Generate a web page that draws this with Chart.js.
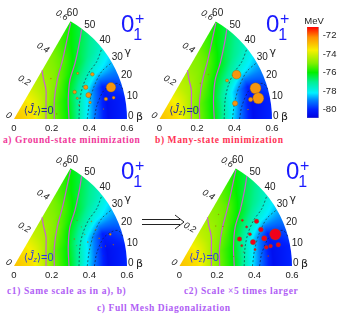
<!DOCTYPE html>
<html>
<head>
<meta charset="utf-8">
<title>Collective wave functions</title>
<script src="https://cdn.jsdelivr.net/npm/chart.js@4"></script>
<style>
    html, body { margin: 0; padding: 0; background: #fff; overflow: hidden; }
    body { width: 337px; height: 317px; position: relative; }
    canvas { position: absolute; filter: blur(0.3px); }
    .cap { position: absolute; white-space: nowrap; font: bold 9.5px "Liberation Serif", serif; letter-spacing: 0.6px; line-height: 10px; }
    svg { position: absolute; left: 0; top: 0; }
</style>
</head>
<body>
<div class="cap" style="left:3px;top:135px;color:#f0389a">a) Ground-state minimization</div>
<div class="cap" style="left:155px;top:135px;color:#ff3355">b) Many-state minimization</div>
<div class="cap" style="left:7px;top:286px;color:#b060f5">c1) Same scale as in a), b)</div>
<div class="cap" style="left:184px;top:286px;color:#b060f5">c2) Scale ×5 times larger</div>
<div class="cap" style="left:97px;top:303px;color:#b060f5">c) Full Mesh Diagonalization</div>
<svg width="337" height="317">
    <path d="M142 219.5H180M142 224.5H180M175 215L184 222L175 229" fill="none" stroke="#222" stroke-width="1"/>
</svg>
<script>
// Axis ticks
const betaTicks = [0, 0.2, 0.4, 0.6];
const gammaTicks = [0, 10, 20, 30, 40, 50, 60];
const energyTicks = [-72, -74, -76, -78, -80];

// Energy surface in MeV, one row per gamma (0..60), one column per beta (0..0.6)
const gridBeta = [0, 0.1, 0.2, 0.3, 0.4, 0.5, 0.6];
const gridGamma = [0, 10, 20, 30, 40, 50, 60];
const energy = [
    [-72.9, -73.4, -74.9, -76.2, -78.5, -80.5, -79.9],
    [-72.9, -73.4, -74.9, -76.2, -78.3, -80.5, -80.0],
    [-72.9, -73.4, -74.9, -76.0, -78.0, -80.0, -79.4],
    [-72.9, -73.4, -74.6, -75.6, -77.0, -78.0, -78.6],
    [-72.9, -73.4, -74.4, -75.1, -76.0, -76.9, -77.6],
    [-72.9, -73.4, -74.3, -74.8, -75.3, -76.2, -76.8],
    [-72.9, -73.4, -74.2, -74.7, -75.0, -75.5, -76.0]
];

// Colour scale
const scaleValues = [-81, -80, -79, -78.2, -77, -76, -75, -73.6, -72.2, -71];
const scaleColors = ['#0000e0', '#0020ff', '#0080ff', '#00f0ff', '#00f090', '#00f000', '#80f000', '#f8f000', '#ff9000', '#ff0000'];

// Contours, x = beta cos(gamma), y = beta sin(gamma)
const magenta1X = [0.170, 0.170, 0.170, 0.156, 0.149];
const magenta1Y = [0, 0.101, 0.154, 0.216, 0.258];
const magenta2X = [0.214, 0.214, 0.230, 0.258, 0.285, 0.301];
const magenta2Y = [0, 0.101, 0.207, 0.313, 0.437, 0.510];
const magenta3X = [0.292, 0.288, 0.297, 0.324, 0.347, 0.359];
const magenta3Y = [0, 0.101, 0.207, 0.296, 0.402, 0.476];
const dashed1X = [0.345, 0.350, 0.365, 0.395, 0.439, 0.467];
const dashed1Y = [0, 0.101, 0.172, 0.242, 0.304, 0.376];
const dashed2X = [0.389, 0.400, 0.425, 0.465, 0.515];
const dashed2Y = [0, 0.083, 0.172, 0.251, 0.296];
const dashed3X = [0.427, 0.439, 0.474, 0.519, 0.554, 0.580];
const dashed3Y = [0, 0.067, 0.147, 0.182, 0.188, 0.154];

// Weights of the selected states
const groundX = [0.515, 0.395, 0.381, 0.322, 0.416, 0.488, 0.529, 0.404, 0.336, 0.338, 0.345, 0.476, 0.227, 0.196];
const groundY = [0.168, 0.127, 0.168, 0.143, 0.237, 0.106, 0.113, 0.088, 0.110, 0.242, 0.074, 0.053, 0.027, 0.214];
const groundW = [87, 47, 40, 33, 33, 33, 27, 23, 20, 20, 10, 7, 7, 7];

const manyX = [0.512, 0.527, 0.411, 0.403, 0.486, 0.360, 0.472, 0.260, 0.217];
const manyY = [0.163, 0.110, 0.235, 0.083, 0.103, 0.204, 0.050, 0.236, 0.190];
const manyW = [100, 100, 80, 47, 40, 27, 10, 5, 5];

const meshX = [0.511, 0.392, 0.452, 0.434, 0.411, 0.320, 0.527, 0.486, 0.463, 0.376, 0.358, 0.335, 0.332, 0.403, 0.473, 0.208, 0.194, 0.288, 0.340, 0.232];
const meshY = [0.168, 0.127, 0.147, 0.193, 0.237, 0.143, 0.113, 0.106, 0.099, 0.168, 0.207, 0.242, 0.108, 0.087, 0.053, 0.274, 0.212, 0.050, 0.074, 0.210];
const meshW = [20, 9.3, 9.3, 8.7, 8, 8, 8, 6.7, 6.7, 5.3, 4, 4, 4, 4, 2, 1, 1, 1, 1, 1];

function lerp(a, b, t) {
    return a + (b - a) * t;
}

function hexToRgb(hex) {
    return [1, 3, 5].map(i => parseInt(hex.substr(i, 2), 16));
}

// Colour for an energy value
function energyColor(e) {
    let i = 0;
    if (e <= scaleValues[0]) e = scaleValues[0];
    while (i < scaleValues.length - 2 && e > scaleValues[i + 1]) i++;
    const t = Math.min(1, (e - scaleValues[i]) / (scaleValues[i + 1] - scaleValues[i]));
    const c0 = hexToRgb(scaleColors[i]);
    const c1 = hexToRgb(scaleColors[i + 1]);
    return 'rgb(' + c0.map((c, k) => Math.round(lerp(c, c1[k], t))).join(',') + ')';
}

// Energy at a (beta, gamma) position of the table
function energyAt(beta, gamma) {
    const bi = Math.min(gridBeta.length - 2, Math.floor(beta / 0.1));
    const gi = Math.min(gridGamma.length - 2, Math.floor(gamma / 10));
    const bt = (beta - gridBeta[bi]) / 0.1;
    const gt = (gamma - gridGamma[gi]) / 10;
    return lerp(
        lerp(energy[gi][bi], energy[gi][bi + 1], bt),
        lerp(energy[gi + 1][bi], energy[gi + 1][bi + 1], bt),
        gt
    );
}

// Wedge surface, painted behind the datasets
const wedgePlugin = {
    id: 'wedge',
    beforeDatasetsDraw(chart) {
        const { ctx, chartArea, scales } = chart;
        const x0 = scales.x.getPixelForValue(0);
        const y0 = scales.y.getPixelForValue(0);
        const radius = scales.x.getPixelForValue(0.6) - x0;
        ctx.save();
        ctx.beginPath();
        ctx.moveTo(x0, y0);
        ctx.arc(x0, y0, radius, -Math.PI / 3, 0);
        ctx.closePath();
        ctx.clip();
        for (let px = Math.floor(chartArea.left); px < chartArea.right; px++) {
            for (let py = Math.floor(chartArea.top); py < chartArea.bottom; py++) {
                const bx = scales.x.getValueForPixel(px + 0.5);
                const by = scales.y.getValueForPixel(py + 0.5);
                const beta = Math.min(0.6, Math.hypot(bx, by));
                const gamma = Math.max(0, Math.min(60, Math.atan2(by, bx) * 180 / Math.PI));
                ctx.fillStyle = energyColor(energyAt(beta, gamma));
                ctx.fillRect(px, py, 1, 1);
            }
        }
        ctx.restore();
    }
};

// Labels around the wedge
const labelsPlugin = {
    id: 'wedgeLabels',
    afterDraw(chart) {
        const { ctx, scales } = chart;
        const opts = chart.options.plugins.wedgeLabels;
        const toPx = (x, y) => [scales.x.getPixelForValue(x), scales.y.getPixelForValue(y)];
        ctx.save();
        ctx.textAlign = 'center';
        ctx.textBaseline = 'middle';
        ctx.fillStyle = '#222';

        // gamma ticks on the arc
        ctx.font = '10px "Liberation Sans"';
        gammaTicks.forEach(g => {
            const r = g === 0 ? 0.62 : 0.64;
            const a = (g + 1) * Math.PI / 180;
            const p = toPx(r * Math.cos(a), r * Math.sin(a) + (g === 0 ? 0.005 : 0));
            ctx.fillText(String(g), p[0], p[1]);
        });

        // beta ticks on the slanted edge
        ctx.font = 'italic 9px "Liberation Sans"';
        betaTicks.forEach(b => {
            const dx = b === 0 ? -0.028 : -0.046;
            const dy = b === 0 ? 0.018 : 0.030;
            const p = toPx(b / 2 + dx, b * Math.sqrt(3) / 2 + dy);
            ctx.save();
            ctx.translate(p[0], p[1]);
            ctx.rotate(Math.PI / 6);
            ctx.fillText(b === 0 ? '0' : b.toFixed(1), 0, 0);
            ctx.restore();
        });

        // axis names
        ctx.font = '11px "DejaVu Sans"';
        let p = toPx(0.604, 0.357);
        ctx.fillText('γ', p[0], p[1]);
        p = toPx(0.667, 0.012);
        ctx.fillText('β', p[0], p[1]);

        // big state label
        ctx.fillStyle = '#1a1aff';
        ctx.font = '24px "Liberation Sans"';
        p = toPx(0.603, 0.499);
        ctx.fillText('0', p[0], p[1]);
        ctx.font = '16px "Liberation Sans"';
        p = toPx(0.667, 0.528);
        ctx.fillText('+', p[0], p[1]);
        p = toPx(0.657, 0.443);
        ctx.fillText('1', p[0], p[1]);

        // <Jz>=0 label
        ctx.fillStyle = opts.jColor;
        ctx.textAlign = 'left';
        let x = scales.x.getPixelForValue(0.052);
        const y = scales.y.getPixelForValue(0.042);
        ctx.font = '10.5px "DejaVu Sans"';
        ctx.fillText('⟨', x, y);
        x += ctx.measureText('⟨').width;
        ctx.font = 'italic 11px "Liberation Sans"';
        ctx.fillText('Ĵ', x, y - 1);
        x += ctx.measureText('Ĵ').width;
        ctx.font = 'italic 7px "Liberation Sans"';
        ctx.fillText('z', x, y + 2);
        x += ctx.measureText('z').width;
        ctx.font = '10.5px "DejaVu Sans"';
        ctx.fillText('⟩', x, y);
        x += ctx.measureText('⟩').width;
        ctx.font = '11px "Liberation Sans"';
        ctx.fillText('=0', x, y);
        ctx.restore();
    }
};

function contourDataset(xs, ys, color, dash) {
    return {
        type: 'scatter',
        showLine: true,
        data: xs.map((x, i) => ({ x: x, y: ys[i] })),
        borderColor: color,
        borderWidth: dash.length ? 0.8 : 1.2,
        borderDash: dash,
        tension: 0.3,
        pointRadius: 0,
        order: 2
    };
}

function addPanel(id, left, top, originX, xs, ys, weights, pxPerWeight, fill, jColor) {
    const canvas = document.createElement('canvas');
    const width = originX - left + 113 + 40;
    const height = 139;
    canvas.width = width;
    canvas.height = height;
    canvas.style.left = left + 'px';
    canvas.style.top = top + 'px';
    canvas.id = id;
    document.body.appendChild(canvas);

    new Chart(canvas, {
        type: 'bubble',
        data: {
            datasets: [
                {
                    data: xs.map((x, i) => ({ x: x, y: ys[i], r: weights[i] * pxPerWeight })),
                    backgroundColor: fill,
                    borderColor: '#8a5a10',
                    borderWidth: 0.4,
                    order: 1
                },
                contourDataset(magenta1X, magenta1Y, '#c860d0', []),
                contourDataset(magenta2X, magenta2Y, '#c860d0', []),
                contourDataset(magenta3X, magenta3Y, '#c860d0', []),
                contourDataset(dashed1X, dashed1Y, '#1a4a40', [2, 2]),
                contourDataset(dashed2X, dashed2Y, '#1a4a50', [2, 2]),
                contourDataset(dashed3X, dashed3Y, '#102060', [2, 2])
            ]
        },
        options: {
            responsive: false,
            animation: false,
            events: [],
            layout: { padding: { left: originX - left, right: 40, top: 21, bottom: 0 } },
            plugins: {
                legend: { display: false },
                tooltip: { enabled: false },
                wedgeLabels: { jColor: jColor }
            },
            scales: {
                x: {
                    type: 'linear',
                    min: 0,
                    max: 0.6,
                    grid: { display: false, drawTicks: false },
                    border: { display: false },
                    afterBuildTicks: s => { s.ticks = betaTicks.map(v => ({ value: v })); },
                    afterFit: s => { s.height = 20; },
                    ticks: {
                        color: '#222',
                        font: { family: 'Liberation Sans', size: 9.5 },
                        padding: 4,
                        maxRotation: 0,
                        autoSkip: false,
                        callback: v => (v === 0 ? '0' : v.toFixed(1))
                    }
                },
                y: {
                    type: 'linear',
                    display: false,
                    min: 0,
                    max: 0.5196
                }
            }
        },
        plugins: [wedgePlugin, labelsPlugin]
    });
}

addPanel('panelA', 0, 0, 14, groundX, groundY, groundW, 0.055, '#f5960f', '#1c2c9c');
addPanel('panelB', 145, 0, 159.5, manyX, manyY, manyW, 0.055, '#f5960f', '#1c2c9c');
addPanel('panelC1', 0, 147, 14, meshX, meshY, meshW, 0.055, '#f5960f', '#2a3ce0');
addPanel('panelC2', 140, 147, 179.5, meshX, meshY, meshW, 0.28, '#f0001c', '#2a3ce0');

// Colour bar
const barCanvas = document.createElement('canvas');
barCanvas.width = 37;
barCanvas.height = 125;
barCanvas.style.left = '300px';
barCanvas.style.top = '10px';
document.body.appendChild(barCanvas);

new Chart(barCanvas, {
    type: 'bar',
    data: {
        labels: ['MeV'],
        datasets: [{
            data: [[-80.9, -71.1]],
            barPercentage: 1,
            categoryPercentage: 1,
            borderColor: '#8890a0',
            borderWidth: 0.5,
            backgroundColor: context => {
                const area = context.chart.chartArea;
                if (!area) return '#000';
                const g = context.chart.ctx.createLinearGradient(0, area.bottom, 0, area.top);
                const lo = -80.9;
                const hi = -71.1;
                scaleValues.forEach((v, i) => {
                    g.addColorStop(Math.max(0, Math.min(1, (v - lo) / (hi - lo))), scaleColors[i]);
                });
                return g;
            }
        }]
    },
    options: {
        responsive: false,
        animation: false,
        events: [],
        layout: { padding: { left: 7, right: 0, top: 17, bottom: 17 } },
        plugins: { legend: { display: false }, tooltip: { enabled: false } },
        scales: {
            x: { display: false },
            y: {
                position: 'right',
                min: -80.9,
                max: -71.1,
                grid: { display: false, drawTicks: false },
                border: { display: false },
                afterBuildTicks: s => { s.ticks = energyTicks.map(v => ({ value: v })); },
                afterFit: s => { s.width = 18.3; },
                ticks: {
                    color: '#222',
                    padding: 4,
                    font: { family: 'Liberation Sans', size: 9.5 }
                }
            }
        }
    },
    plugins: [{
        id: 'barUnit',
        afterDraw(chart) {
            const ctx = chart.ctx;
            ctx.save();
            ctx.fillStyle = '#222';
            ctx.font = '9.5px "Liberation Sans"';
            ctx.textAlign = 'center';
            ctx.textBaseline = 'middle';
            ctx.fillText('MeV', 14, 11);
            ctx.restore();
        }
    }]
});
</script>
</body>
</html>
